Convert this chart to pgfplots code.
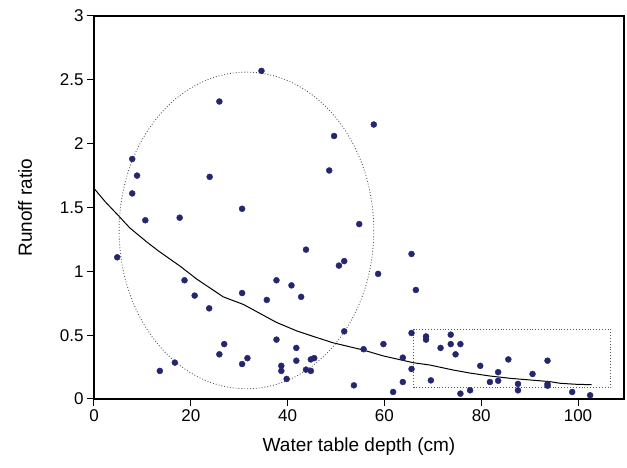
\documentclass[border=0pt]{standalone}
\usepackage{fontspec}
\setmainfont{Liberation Sans}
\usepackage{pgfplots}
\pgfplotsset{compat=1.18}
\definecolor{navy}{RGB}{38,38,112}

\begin{document}
\begin{tikzpicture}[x=1pt,y=1pt]
\path[use as bounding box] (0,0) rectangle (627,468);
\begin{axis}[
        at={(94pt,69pt)}, anchor=south west,
        scale only axis,
        width=530pt, height=383pt,
        xmin=0, xmax=109.5,
        ymin=0, ymax=3,
        xtick={0,20,40,60,80,100},
        ytick={0,0.5,1,1.5,2,2.5,3},
        xtick pos=bottom, ytick pos=left,
        tick align=outside,
        major tick length=7pt,
        axis line style={line width=1.3pt},
        tick style={line width=1pt, black},
        ticklabel style={font=\fontsize{17}{20}\selectfont},
        /pgf/number format/assume math mode=true,
        xlabel={Water table depth (cm)},
        ylabel={Runoff ratio},
        label style={font=\fontsize{19}{23}\selectfont},
        xlabel style={at={(axis description cs:0.5,-0.125)}, anchor=center},
        ylabel style={at={(axis description cs:-0.13,0.5)}, anchor=center},
]

% fitted curve
\addplot[no marks, black, line width=1pt] coordinates{
(0,1.65) (2.3,1.546) (5.2,1.43) (7.4,1.34) (10.9,1.23) (13.3,1.16)
(17.8,1.04) (21.2,0.94) (26.7,0.80) (30.9,0.74) (37.7,0.60) (41.9,0.533)
(45.3,0.49) (49.4,0.44) (55.6,0.384) (59.8,0.337) (66.0,0.284) (69.4,0.266)
(74.2,0.227) (77.7,0.203) (81.8,0.18) (86.0,0.162) (90.1,0.149) (94.2,0.136)
(96.3,0.123) (99.7,0.115) (102.8,0.112)
};

% observations
\addplot[only marks, mark=*, mark size=3pt, navy, mark options={draw=navy, fill=navy}] coordinates{
(4.8,1.11) (7.9,1.88) (8.9,1.75) (7.9,1.61) (10.6,1.40) (13.6,0.22)
(16.7,0.285) (17.7,1.42) (18.7,0.93) (20.8,0.81) (23.8,0.71) (23.9,1.74)
(25.9,2.33) (25.9,0.35) (26.9,0.43) (30.6,1.49) (30.6,0.83) (30.6,0.274)
(31.7,0.32) (34.6,2.57) (35.7,0.776) (37.7,0.93) (37.7,0.465) (38.7,0.26)
(38.7,0.22) (39.8,0.157) (40.8,0.89) (41.8,0.40) (41.8,0.30) (42.8,0.80)
(43.8,1.17) (43.8,0.23) (44.8,0.22) (44.8,0.31) (45.5,0.32) (48.6,1.79)
(49.6,2.06) (50.6,1.045) (51.7,1.08) (51.7,0.53) (53.7,0.107) (54.8,1.37)
(55.7,0.39) (57.8,2.15) (58.7,0.98) (59.8,0.43) (61.8,0.055) (63.8,0.324)
(63.8,0.133) (65.6,1.136) (65.6,0.517) (65.6,0.235) (66.5,0.854) (68.6,0.49)
(68.6,0.465) (69.6,0.146) (71.6,0.40) (73.7,0.504) (73.7,0.43) (74.7,0.35)
(75.7,0.43) (75.7,0.042) (77.7,0.068) (79.8,0.26) (81.8,0.133) (83.5,0.21)
(83.5,0.143) (85.6,0.31) (87.6,0.118) (87.6,0.068) (90.6,0.196) (93.7,0.30)
(93.7,0.118) (93.7,0.104) (98.8,0.055) (102.5,0.029)
};

% highlighted groups
\draw[dotted, black!65, line width=0.9pt] (axis cs:31.5,1.32) ellipse [x radius=26.3, y radius=1.24];
\draw[dotted, black!65, line width=0.9pt] (axis cs:66.1,0.089) rectangle (axis cs:106.8,0.546);

\end{axis}
\end{tikzpicture}
\end{document}
